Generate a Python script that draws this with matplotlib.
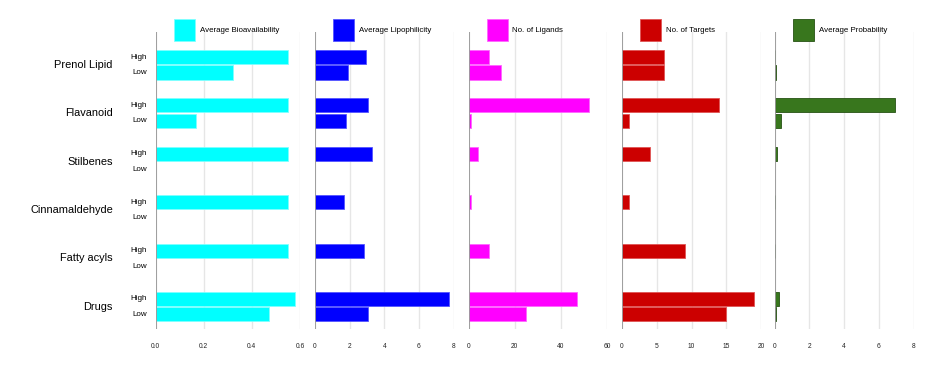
import numpy as np
import matplotlib
matplotlib.use("Agg")
import matplotlib.pyplot as plt
from matplotlib.patches import Rectangle

plt.rcParams['font.family'] = ['Liberation Sans', 'DejaVu Sans']

# data (High / Low per category), nan = no bar
categories = ["Prenol Lipid", "Flavanoid", "Stilbenes", "Cinnamaldehyde", "Fatty acyls", "Drugs"]
levels = ["High", "Low"]
nan = np.nan

bioavail_high = [0.55, 0.55, 0.55, 0.55, 0.55, 0.58]
bioavail_low = [0.32, 0.17, nan, nan, nan, 0.47]
lipo_high = [2.96, 3.04, 3.29, 1.67, 2.85, 7.74]
lipo_low = [1.89, 1.77, nan, nan, nan, 3.04]
ligands_high = [9, 52, 4, 1, 9, 47]
ligands_low = [14, 1, nan, nan, nan, 25]
targets_high = [6, 14, 4, 1, 9, 19]
targets_low = [6, 1, nan, nan, nan, 15]
prob_high = [0.02, 6.92, 0.13, 0.01, 0.01, 0.25]
prob_low = [0.1, 0.4, nan, nan, nan, 0.1]

names = ["Average Bioavailability", "Average Lipophilicity", "No. of Ligands",
         "No. of Targets", "Average Probability"]
colors = ["#00FFFF", "#0000FF", "#FF00FF", "#CC0000", "#38761D"]
edges = ["#7FFFFF", "#5555FF", "#FF66FF", "#E05555", "#275214"]
highs = [bioavail_high, lipo_high, ligands_high, targets_high, prob_high]
lows = [bioavail_low, lipo_low, ligands_low, targets_low, prob_low]
xlims = [0.6, 8, 60, 20, 8]
xticks = [[0, 0.2, 0.4, 0.6], [0, 2, 4, 6, 8], [0, 20, 40, 60], [0, 5, 10, 15, 20], [0, 2, 4, 6, 8]]
ticklabels = [["0.0", "0.2", "0.4", "0.6"], None, None, None, None]

W, H = 946, 384
fig = plt.figure(figsize=(W / 100, H / 100), dpi=100)

panel_x = [(155.5, 300), (315, 453.5), (468.5, 607), (622, 761), (774.5, 913.5)]
top, bottom = 32, 329

y = np.arange(len(categories))
off = 0.16
bh = 0.29

for i in range(5):
    x0, x1 = panel_x[i]
    ax = fig.add_axes([x0 / W, 1 - bottom / H, (x1 - x0) / W, (bottom - top) / H])
    ax.barh(y - off, highs[i], height=bh, color=colors[i], edgecolor=edges[i], linewidth=0.6)
    ax.barh(y + off, lows[i], height=bh, color=colors[i], edgecolor=edges[i], linewidth=0.6)
    ax.set_xlim(0, xlims[i])
    ax.set_ylim(5.46, -0.677)
    ax.set_xticks(xticks[i])
    if ticklabels[i]:
        ax.set_xticklabels(ticklabels[i])
    ax.tick_params(axis='x', length=0, labelsize=4.8, pad=10, colors="#222222")
    ax.set_yticks([])
    for s in ax.spines.values():
        s.set_visible(False)
    ax.grid(axis='x', color="#e6e6e6", linewidth=1.0)
    ax.set_axisbelow(True)
    ax.axvline(0, color="#999999", linewidth=1.3)

    if i == 0:
        for j, c in enumerate(categories):
            ax.text(-42.5 / 240, j, c, ha='right', va='center', fontsize=7.9)
            ax.text(-8.5 / 240, j - off, "High", ha='right', va='center', fontsize=5.8)
            ax.text(-8.5 / 240, j + off, "Low", ha='right', va='center', fontsize=5.8)

    # legend swatch above each panel
    sx = x0 + 18
    fig.patches.append(Rectangle((sx / W, 1 - 41 / H), 21 / W, 22 / H,
                                 transform=fig.transFigure, facecolor=colors[i],
                                 edgecolor=edges[i], linewidth=0.6))
    fig.text((sx + 26) / W, 1 - 30 / H, names[i], fontsize=5.7, va='center', ha='left')

fig.savefig("out.png", dpi=100, facecolor="white")
